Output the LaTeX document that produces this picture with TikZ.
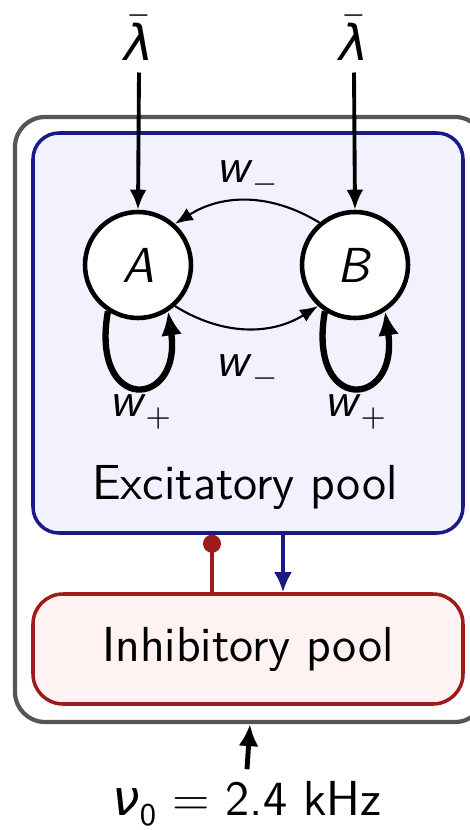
\documentclass[tikz,border=0pt]{standalone}
\usepackage{fontspec}
\newfontfamily\grk{DejaVu Sans}
\usetikzlibrary{arrows.meta}
\definecolor{excblue}{HTML}{1A1A85}
\definecolor{excfill}{HTML}{F2F2FF}
\definecolor{inhred}{HTML}{9E1B1B}
\definecolor{inhfill}{HTML}{FFF2F2}
\definecolor{framegray}{HTML}{555555}
\newcommand{\wsym}[1]{\textit{w}\raisebox{-0.45ex}{\small$#1$}}
\newcommand{\lambar}{$\bar{\hbox{\grk\itshape λ}}$}

\begin{document}
\begin{tikzpicture}[x=0.1mm,y=0.1mm,font=\fontsize{14}{16}\selectfont\sffamily,
    pop/.style={circle,draw,line width=1.3pt,fill=white,minimum size=10.6mm,inner sep=0pt},
    selfloop/.style={line width=1.8pt,-{Latex[length=2.4mm,width=2.1mm]}},
    cross/.style={line width=0.6pt,-{Latex[length=1.8mm,width=1.4mm]}},
    drive/.style={line width=1.1pt,-{Latex[length=2mm,width=1.7mm]}}]
  \useasboundingbox (0,0) rectangle (470,830);
  % frame and pools
  \node[draw=framegray,line width=1.2pt,rounded corners=3mm,minimum width=47mm,minimum height=60.5mm] (frame) at (250,410.5) {};
  \node[draw=excblue,fill=excfill,line width=1pt,rounded corners=2.6mm,minimum width=43mm,minimum height=40mm] (exc) at (248,497) {};
  \node[draw=inhred,fill=inhfill,line width=1pt,rounded corners=3mm,minimum width=43mm,minimum height=11mm] (inh) at (248,181) {Inhibitory pool};
  \node (exclabel) at (245,343) {Excitatory pool};
  % populations
  \node[pop] (A) at (138,565) {\textit{A}};
  \node[pop] (B) at (355,565) {\textit{B}};
  \node (lamA) at (139,792) {\lambar};
  \node (lamB) at (354,792) {\lambar};
  \draw[drive] (lamA.south) -- (A.north);
  \draw[drive] (lamB.south) -- (B.north);
  \draw[cross] (B.130) to[bend right=32] node[above=-2pt] {\wsym{-}} (A.48);
  \draw[cross] (A.-48) to[bend right=32] node[below=4pt] {\wsym{-}} (B.-132);
  \draw[selfloop] (A.-123) .. controls +(-18,-103) and +(14,-98) .. (A.-57);
  \draw[selfloop] (B.-123) .. controls +(-18,-103) and +(14,-98) .. (B.-57);
  \node (wpA) at (140,418) {\wsym{+}};
  \node (wpB) at (355,418) {\wsym{+}};
  % pool coupling
  \coordinate (inhx) at (212,0);
  \coordinate (excx) at (283,0);
  \draw[inhred,line width=1pt,-{Circle[length=1.8mm]}] (inhx |- inh.north) -- (inhx |- exc.south);
  \draw[excblue,line width=1pt,-{Latex[length=2mm,width=1.8mm]}] (excx |- exc.south) -- (excx |- inh.north);
  % background input
  \node (nu) at (247,26) {{\grk\itshape ν}\raisebox{-0.45ex}{\small 0} = 2.4 kHz};
  \draw[line width=1.4pt,-{Latex[length=2.2mm,width=2mm]}] (nu.north) -- (frame.south);
\end{tikzpicture}
\end{document}
